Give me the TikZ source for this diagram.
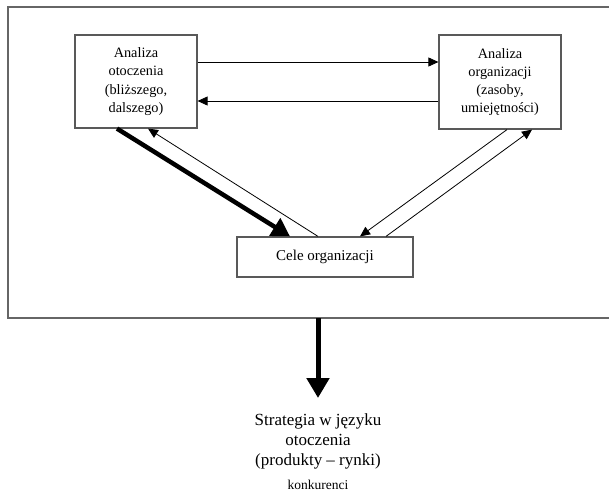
\documentclass[tikz,border=0pt]{standalone}
\usepackage{fontspec}
\setmainfont{Liberation Serif}
\usetikzlibrary{arrows.meta,calc}
\begin{document}
\begin{tikzpicture}[x=1pt,y=-1pt,
  box/.style={draw=black!65,line width=1.2pt,rectangle,inner sep=0pt,align=center,
    font=\fontsize{14.3}{18.2}\selectfont},
  thin arrow/.style={draw=black,line width=0.8pt,-{Triangle[length=10pt,width=9pt]}},
  thick arrow/.style={draw=black,line width=4.5pt,-{Triangle[length=18pt,width=20pt]}},
  frame/.style={draw=black!60,line width=1.5pt}]
\useasboundingbox (0,0) rectangle (609,492);
% outer frame (open on the right)
\draw[frame] (609,7) -- (8,7) -- (8,318) -- (609,318);
% boxes
\node[box,minimum width=122pt,minimum height=93pt] (L) at (136,81.5)
  {Analiza\\otoczenia\\(bliższego,\\dalszego)};
\node[box,minimum width=122pt,minimum height=94pt] (R) at (500,82)
  {Analiza\\organizacji\\(zasoby,\\umiejętności)};
\node[box,minimum width=176pt,minimum height=40pt,font=\fontsize{15}{18}\selectfont] (C) at (325,257)
  {Cele organizacji};
% horizontal links
\draw[thin arrow] ([yshift=19.5pt]L.east) -- ([yshift=19.5pt]L.east -| R.west);
\draw[thin arrow] ([yshift=-19.5pt]L.east -| R.west) -- ([yshift=-19.5pt]L.east);
% diagonal links
\draw[thick arrow] ([xshift=-19pt]L.south) -- ([xshift=-35pt]C.north);
\draw[thin arrow] ([xshift=-7pt]C.north) -- ([xshift=12pt]L.south);
\draw[thin arrow] ([xshift=7pt]R.south) -- ([xshift=35pt]C.north);
\draw[thin arrow] ([xshift=61pt]C.north) -- ([xshift=32pt]R.south);
% result
\coordinate (F) at (318,318);
\node[anchor=north,align=center,inner sep=0pt,font=\fontsize{17}{20}\selectfont] (S) at (318,413)
  {Strategia w języku\\otoczenia\\(produkty – rynki)};
\node[inner sep=0pt,font=\fontsize{13.5}{15}\selectfont] (K) at (318,485) {konkurenci};
\draw[line width=5pt,-{Triangle[length=20pt,width=22pt]}] (F) -- ([yshift=15pt]S.north);
\end{tikzpicture}
\end{document}
